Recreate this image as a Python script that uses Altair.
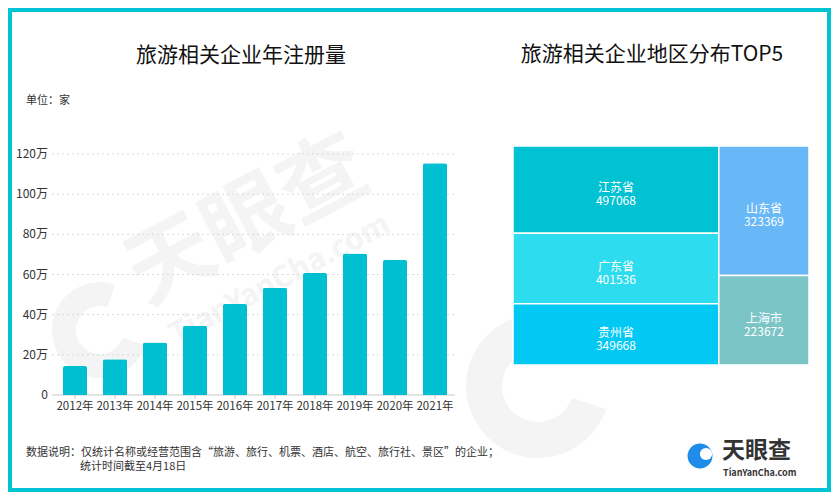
import altair as alt
import pandas as pd

# ---------------- data ----------------
years = ["2012年", "2013年", "2014年", "2015年", "2016年",
         "2017年", "2018年", "2019年", "2020年", "2021年"]
counts_wan = [14.4, 17.8, 26.1, 34.5, 45.3, 53.4, 60.7, 70.4, 67.2, 115.4]

y_ticks = [0, 20, 40, 60, 80, 100, 120]
y_tick_labels = ["0", "20万", "40万", "60万", "80万", "100万", "120万"]

regions = ["江苏省", "广东省", "贵州省", "山东省", "上海市"]
region_counts = [497068, 401536, 349668, 323369, 223672]
region_column = [0, 0, 0, 1, 1]          # treemap column of each region
region_colors = ["#00C2D2", "#2EDCF0", "#02C8F4", "#68B8F8", "#7CC5C7"]

FONT = "Noto Sans CJK SC"
W, H = 823, 484

# ---------------- tables ----------------
bars_df = pd.DataFrame({"year": years, "value": counts_wan})
ticks_df = pd.DataFrame({"v": y_ticks, "label": y_tick_labels})

# treemap layout (two columns, slice within column), computed from the values
tm = pd.DataFrame({"region": regions, "count": region_counts, "col": region_column})
col_sums = tm.groupby("col")["count"].sum()
total = float(tm["count"].sum())
col_x0 = col_sums.cumsum() - col_sums
tm["x0"] = tm["col"].map(col_x0)
tm["x1"] = tm["x0"] + tm["col"].map(col_sums)
tm["frac"] = tm["count"] / tm["col"].map(col_sums)
tm["y1"] = tm.groupby("col")["frac"].cumsum()
tm["y0"] = tm["y1"] - tm["frac"]
tm["cx"] = (tm["x0"] + tm["x1"]) / 2
tm["cy"] = (tm["y0"] + tm["y1"]) / 2
tm["num"] = tm["count"].astype(str)

one = pd.DataFrame({"k": [0]})


def label(txt, x, y, size, **kw):
    params = dict(text=txt, fontSize=size, font=FONT, color="#222222",
                  align="left", baseline="middle")
    params.update(kw)
    return alt.Chart(one).mark_text(**params).encode(x=alt.value(x), y=alt.value(y))


# ---------------- frame & decorations ----------------
frame = alt.Chart(one).mark_rect(color="#ffffff").encode(
    x=alt.value(4), x2=alt.value(W - 4), y=alt.value(4), y2=alt.value(H - 4))

WM = "#f4f4f4"
wm1 = label("天眼查", 240, 214, 86, fontWeight="bold", color=WM,
            align="center", angle=332)
wm2 = label("TianYanCha.com", 272, 272, 30, fontWeight="bold", color=WM,
            align="center", angle=332)
wm_ring1 = alt.Chart(one).mark_arc(innerRadius=24, outerRadius=48, color=WM).encode(
    x=alt.value(92), y=alt.value(322), theta=alt.value(1.9), theta2=alt.value(6.6))
wm_ring2 = alt.Chart(one).mark_arc(innerRadius=36, outerRadius=72, color=WM).encode(
    x=alt.value(530), y=alt.value(378), theta=alt.value(1.9), theta2=alt.value(6.6))

# ---------------- bar chart ----------------
xs = alt.Scale(domain=years, range=[47, 447], paddingInner=0.4, paddingOuter=0.2)
ys = alt.Scale(domain=[0, 120], range=[387, 146], nice=False)

grid = alt.Chart(ticks_df).transform_filter("datum.v > 0").mark_rule(
    color="#d9d9d9", strokeDash=[2, 3], strokeWidth=1).encode(
    y=alt.Y("v:Q", scale=ys, axis=None), x=alt.value(44), x2=alt.value(447))
base_line = alt.Chart(ticks_df).transform_filter("datum.v == 0").mark_rule(
    color="#c8c8c8", strokeWidth=1).encode(
    y=alt.Y("v:Q", scale=ys, axis=None), x=alt.value(44), x2=alt.value(447))
ylab = alt.Chart(ticks_df).mark_text(
    align="right", baseline="middle", fontSize=12, font=FONT, color="#333333").encode(
    y=alt.Y("v:Q", scale=ys, axis=None), x=alt.value(40), text="label:N")
bars = alt.Chart(bars_df).mark_bar(
    color="#00BFD0", cornerRadiusTopLeft=2, cornerRadiusTopRight=2).encode(
    x=alt.X("year:N", scale=xs, axis=None, sort=years),
    y=alt.Y("value:Q", scale=ys, axis=None))
xticks = alt.Chart(bars_df).mark_rule(color="#c8c8c8").encode(
    x=alt.X("year:N", scale=xs, axis=None, sort=years),
    y=alt.value(387), y2=alt.value(391))
xlab = alt.Chart(bars_df).mark_text(
    align="center", baseline="middle", fontSize=11.5, font=FONT, color="#333333").encode(
    x=alt.X("year:N", scale=xs, axis=None, sort=years),
    y=alt.value(399), text="year:N")

bar_group = alt.layer(grid, base_line, bars, xticks, xlab, ylab)

# ---------------- treemap ----------------
txs = alt.Scale(domain=[0, total], range=[505, 801], nice=False, zero=False)
tys = alt.Scale(domain=[0, 1], range=[138, 357], nice=False, zero=False)
cs = alt.Scale(domain=regions, range=region_colors)

cells = alt.Chart(tm).mark_rect(stroke="#ffffff", strokeWidth=1.5).encode(
    x=alt.X("x0:Q", scale=txs, axis=None), x2="x1:Q",
    y=alt.Y("y0:Q", scale=tys, axis=None), y2="y1:Q",
    color=alt.Color("region:N", scale=cs, legend=None))
cell_text = alt.Chart(tm).transform_calculate(
    lines="[datum.region, datum.num]"
).mark_text(
    fontSize=12, font=FONT, color="#ffffff", baseline="middle", lineHeight=13, dy=-1.5).encode(
    x=alt.X("cx:Q", scale=txs, axis=None), y=alt.Y("cy:Q", scale=tys, axis=None),
    text="lines:N")

tree_group = alt.layer(cells, cell_text)

# ---------------- texts ----------------
title_l = label("旅游相关企业年注册量", 233, 48, 21, align="center", color="#111111")
title_r = label("旅游相关企业地区分布TOP5", 644, 47, 21, align="center", color="#111111")
unit = label("单位：家", 18, 93, 11, color="#333333")
note1 = label("数据说明：仅统计名称或经营范围含“旅游、旅行、机票、酒店、航空、旅行社、景区”的企业；",
              18, 445, 11, color="#333333")
note2 = label("统计时间截至4月18日", 72, 459, 11, color="#333333")

logo_c = alt.Chart(one).mark_point(filled=True, color="#1E8CE8", size=620, opacity=1).encode(
    x=alt.value(692), y=alt.value(448))
logo_w = alt.Chart(one).mark_point(filled=True, color="#ffffff", size=150, opacity=1).encode(
    x=alt.value(698), y=alt.value(446))
logo_t = label("天眼查", 714, 443, 23, fontWeight="bold", color="#333333")
logo_s = label("TianYanCha.com", 715, 465, 9, fontWeight="bold", color="#333333")

chart = alt.layer(
    frame, wm_ring1, wm_ring2, wm1, wm2, bar_group, tree_group,
    title_l, title_r, unit, note1, note2, logo_c, logo_w, logo_t, logo_s
).resolve_scale(
    x="independent", y="independent"
).properties(
    width=W, height=H, padding=0,
    autosize=alt.AutoSizeParams(type="none"),
    background="#00C4D4",
).configure_view(stroke="transparent")

chart.save("out.html", embed_options={"renderer": "svg", "actions": False})
